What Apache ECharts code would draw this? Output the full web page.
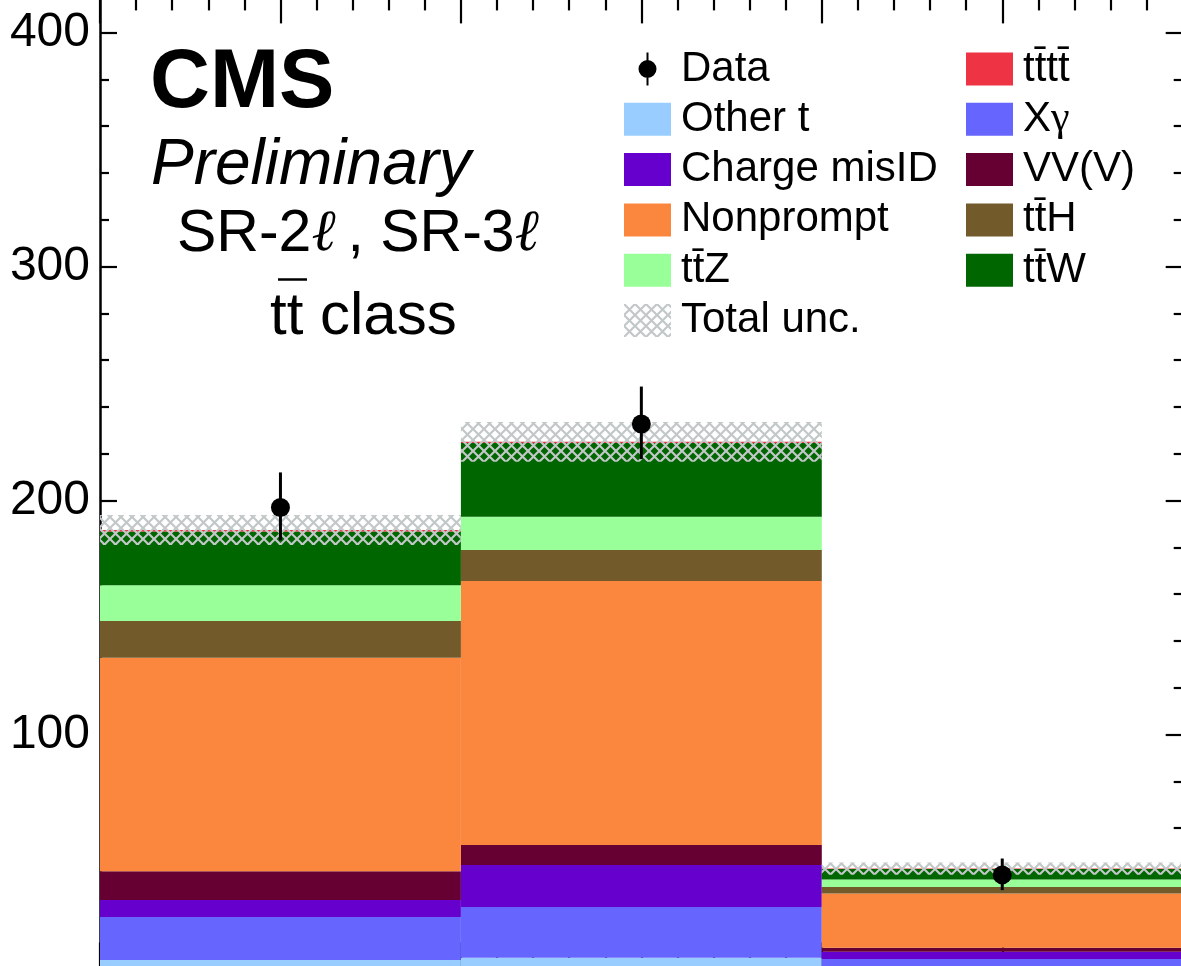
<!DOCTYPE html>
<html><head><meta charset="utf-8">
<script src="https://cdn.jsdelivr.net/npm/echarts@6/dist/echarts.min.js"></script>
<style>html,body{margin:0;padding:0;background:#fff;overflow:hidden}#c{width:1181px;height:966px}</style>
</head><body><div id="c"></div>
<script>
// ---- data ----
const binEdges = [0, 1, 2, 3];
const otherT      = [3.6, 4.6, 0.5];
const xGamma      = [18.4, 21.7, 3.6];
const chargeMisID = [7.3, 17.9, 3.1];
const vvv         = [12.3, 8.6, 1.7];
const nonprompt   = [91.2, 112.8, 23.2];
const ttH         = [15.7, 13.2, 2.7];
const ttZ         = [15.3, 14.3, 3.2];
const ttW         = [23.0, 31.5, 4.5];
const tttt        = [0.6, 0.5, 0.2];
const totalUnc    = [6.4, 8.5, 2.6];
const dataX       = [0.5, 1.5, 2.5];
const dataY       = [197.0, 232.7, 40.0];
const dataErrUp   = [15.0, 16.0, 7.0];
const dataErrDown = [14.0, 15.0, 6.5];
const yTickValues = [100, 200, 300, 400];

// ---- styling ----
const colors = ['#99ccff', '#6666ff', '#6600cc', '#660033', '#fa873d', '#725a2b', '#99ff99', '#006600', '#ee3344'];
const names = ['Other t', 'X\u03b3', 'Charge misID', 'VV(V)', 'Nonprompt', 'tt\u0304H', 'tt\u0304Z', 'tt\u0304W', 'tt\u0304tt\u0304'];
const stackVals = [otherT, xGamma, chargeMisID, vvv, nonprompt, ttH, ttZ, ttW, tttt];

const hatch = document.createElement('canvas');
hatch.width = 11; hatch.height = 11;
(function(){
  const g = hatch.getContext('2d');
  g.strokeStyle = '#c2c8c8'; g.lineWidth = 2.2;
  g.beginPath();
  g.moveTo(-1,-1); g.lineTo(12,12);
  g.moveTo(-1,12); g.lineTo(12,-1);
  g.stroke();
})();
const hatchFill = {image: hatch, repeat: 'repeat'};

function rectRender(params, api) {
  const p0 = api.coord([api.value(0), api.value(3)]);
  const p1 = api.coord([api.value(1), api.value(2)]);
  return {type: 'rect', shape: {x: p0[0], y: p0[1], width: p1[0] - p0[0], height: p1[1] - p0[1]},
          style: {fill: api.visual('color')}};
}

const series = [];
const cum = [0, 0, 0];
stackVals.forEach((vals, k) => {
  const d = vals.map((v, i) => {
    const item = [binEdges[i], binEdges[i + 1], cum[i], cum[i] + v];
    cum[i] += v;
    return item;
  });
  series.push({type: 'custom', name: names[k], renderItem: rectRender, data: d,
               itemStyle: {color: colors[k]}, xAxisIndex: 0, yAxisIndex: 0, z: 2});
});
const total = cum.slice();
series.push({type: 'custom', name: 'Total unc.', renderItem: rectRender, z: 3,
  data: total.map((t, i) => [binEdges[i], binEdges[i + 1], t - totalUnc[i], t + totalUnc[i]]),
  itemStyle: {color: hatchFill}});
series.push({type: 'custom', name: 'Data', z: 4,
  renderItem: function(params, api){
    const a = api.coord([api.value(0), api.value(1)]);
    const b = api.coord([api.value(0), api.value(2)]);
    return {type: 'line', shape: {x1: a[0], y1: a[1], x2: b[0], y2: b[1]}, style: {stroke: '#000', lineWidth: 3}};
  },
  data: dataX.map((x, i) => [x, dataY[i] - dataErrDown[i], dataY[i] + dataErrUp[i]]),
  itemStyle: {color: '#000'}});
series.push({type: 'scatter', name: 'Data', z: 5, symbol: 'circle', symbolSize: 19,
  itemStyle: {color: '#000', opacity: 1}, data: dataX.map((x, i) => [x, dataY[i]])});

const FONT = 'Liberation Sans';
const dataIcon = 'path://M9.5,0 H11.5 V33 H9.5 Z M10.5,7.5 A9,9 0 1,1 10.49,7.5 Z';
const legendCommon = {orient: 'vertical', itemWidth: 47, itemHeight: 33, itemGap: 8.3, selectedMode: false,
  symbolKeepAspect: true, padding: 0,
  formatter: n => (n === 'X\u03b3' ? '{t|X}{g|\u03b3}' : n),
  textStyle: {fontSize: 42, fontFamily: FONT, color: '#000', padding: [0, 0, 0, 5],
    rich: {t: {fontSize: 42, fontFamily: FONT, color: '#000'}, g: {fontSize: 42, fontFamily: 'Liberation Serif', color: '#000'}}}};

const axisLineStyle = {color: '#000', width: 2.5};
const tickStyle = {color: '#000', width: 2.2};
const option = {
  animation: false,
  backgroundColor: '#fff',
  grid: [
    {left: 100, right: -1.7, top: -201.5, bottom: -2.5, containLabel: false, outerBoundsMode: 'none'},
    {left: 100, right: -1.7, top: -2.6, height: 30, containLabel: false, outerBoundsMode: 'none'}
  ],
  xAxis: [
    {type: 'value', gridIndex: 0, min: 0, max: 3, interval: 0.5, position: 'bottom',
     axisLine: {show: true, onZero: false, lineStyle: axisLineStyle},
     axisTick: {show: true, inside: true, length: 26, lineStyle: tickStyle},
     minorTick: {show: true, splitNumber: 5, length: 13, lineStyle: tickStyle},
     axisLabel: {show: false}, splitLine: {show: false}},
    {type: 'value', gridIndex: 1, min: 0, max: 3, interval: 0.5, position: 'top',
     axisLine: {show: true, onZero: false, lineStyle: axisLineStyle},
     axisTick: {show: true, inside: true, length: 26, lineStyle: tickStyle},
     minorTick: {show: true, splitNumber: 5, length: 13, lineStyle: tickStyle},
     axisLabel: {show: false}, splitLine: {show: false}}
  ],
  yAxis: [
    {type: 'value', gridIndex: 0, min: 0, max: 500, interval: 100, position: 'left',
     axisLine: {show: true, onZero: false, lineStyle: axisLineStyle},
     axisTick: {show: true, inside: true, length: 17, lineStyle: tickStyle},
     minorTick: {show: true, splitNumber: 5, length: 9, lineStyle: tickStyle},
     axisLabel: {show: true, fontSize: 48, fontFamily: FONT, color: '#000', margin: 10,
       formatter: v => (yTickValues.indexOf(v) >= 0 ? String(v) : '')},
     splitLine: {show: false}},
    {type: 'value', gridIndex: 0, min: 0, max: 500, interval: 100, position: 'right',
     axisLine: {show: true, onZero: false, lineStyle: axisLineStyle},
     axisTick: {show: true, inside: true, length: 17, lineStyle: tickStyle},
     minorTick: {show: true, splitNumber: 5, length: 9, lineStyle: tickStyle},
     axisLabel: {show: false}, splitLine: {show: false}},
    {type: 'value', gridIndex: 1, show: false, min: 0, max: 1}
  ],
  legend: [
    Object.assign({left: 624, top: 48, data: [
      {name: 'Data', icon: dataIcon},
      {name: 'Other t', icon: 'rect'}, {name: 'Charge misID', icon: 'rect'},
      {name: 'Nonprompt', icon: 'rect'}, {name: 'tt\u0304Z', icon: 'rect'},
      {name: 'Total unc.', icon: 'rect'}]}, legendCommon),
    Object.assign({left: 966, top: 48, data: [
      {name: 'tt\u0304tt\u0304', icon: 'rect'}, {name: 'X\u03b3', icon: 'rect'},
      {name: 'VV(V)', icon: 'rect'}, {name: 'tt\u0304H', icon: 'rect'},
      {name: 'tt\u0304W', icon: 'rect'}]}, legendCommon)
  ],
  graphic: [
    {type: 'text', left: 150, top: 43, style: {text: 'CMS', font: 'bold 83px "Liberation Sans"', fill: '#000'}},
    {type: 'text', left: 151, top: 134, style: {text: 'Preliminary', font: 'italic 64px "Liberation Sans"', fill: '#000'}},
    {type: 'text', left: 177, top: 205, style: {
      text: '{a|SR-2}{l|\u2113}{a|, SR-3}{l|\u2113}',
      rich: {a: {font: '59px "Liberation Sans"', fill: '#000'},
             l: {font: 'italic 58px "DejaVu Serif"', fill: '#000', width: 36, align: 'left'}}}},
    {type: 'text', left: 270, top: 287, style: {text: 'tt class', font: '60px "Liberation Sans"', fill: '#000'}},
    {type: 'line', shape: {x1: 278, y1: 279.5, x2: 307, y2: 279.5}, style: {stroke: '#000', lineWidth: 2.5}}
  ],
  series: series
};
const chart = echarts.init(document.getElementById('c'), null, {renderer: 'canvas'});
chart.setOption(option);
</script>
</body></html>
